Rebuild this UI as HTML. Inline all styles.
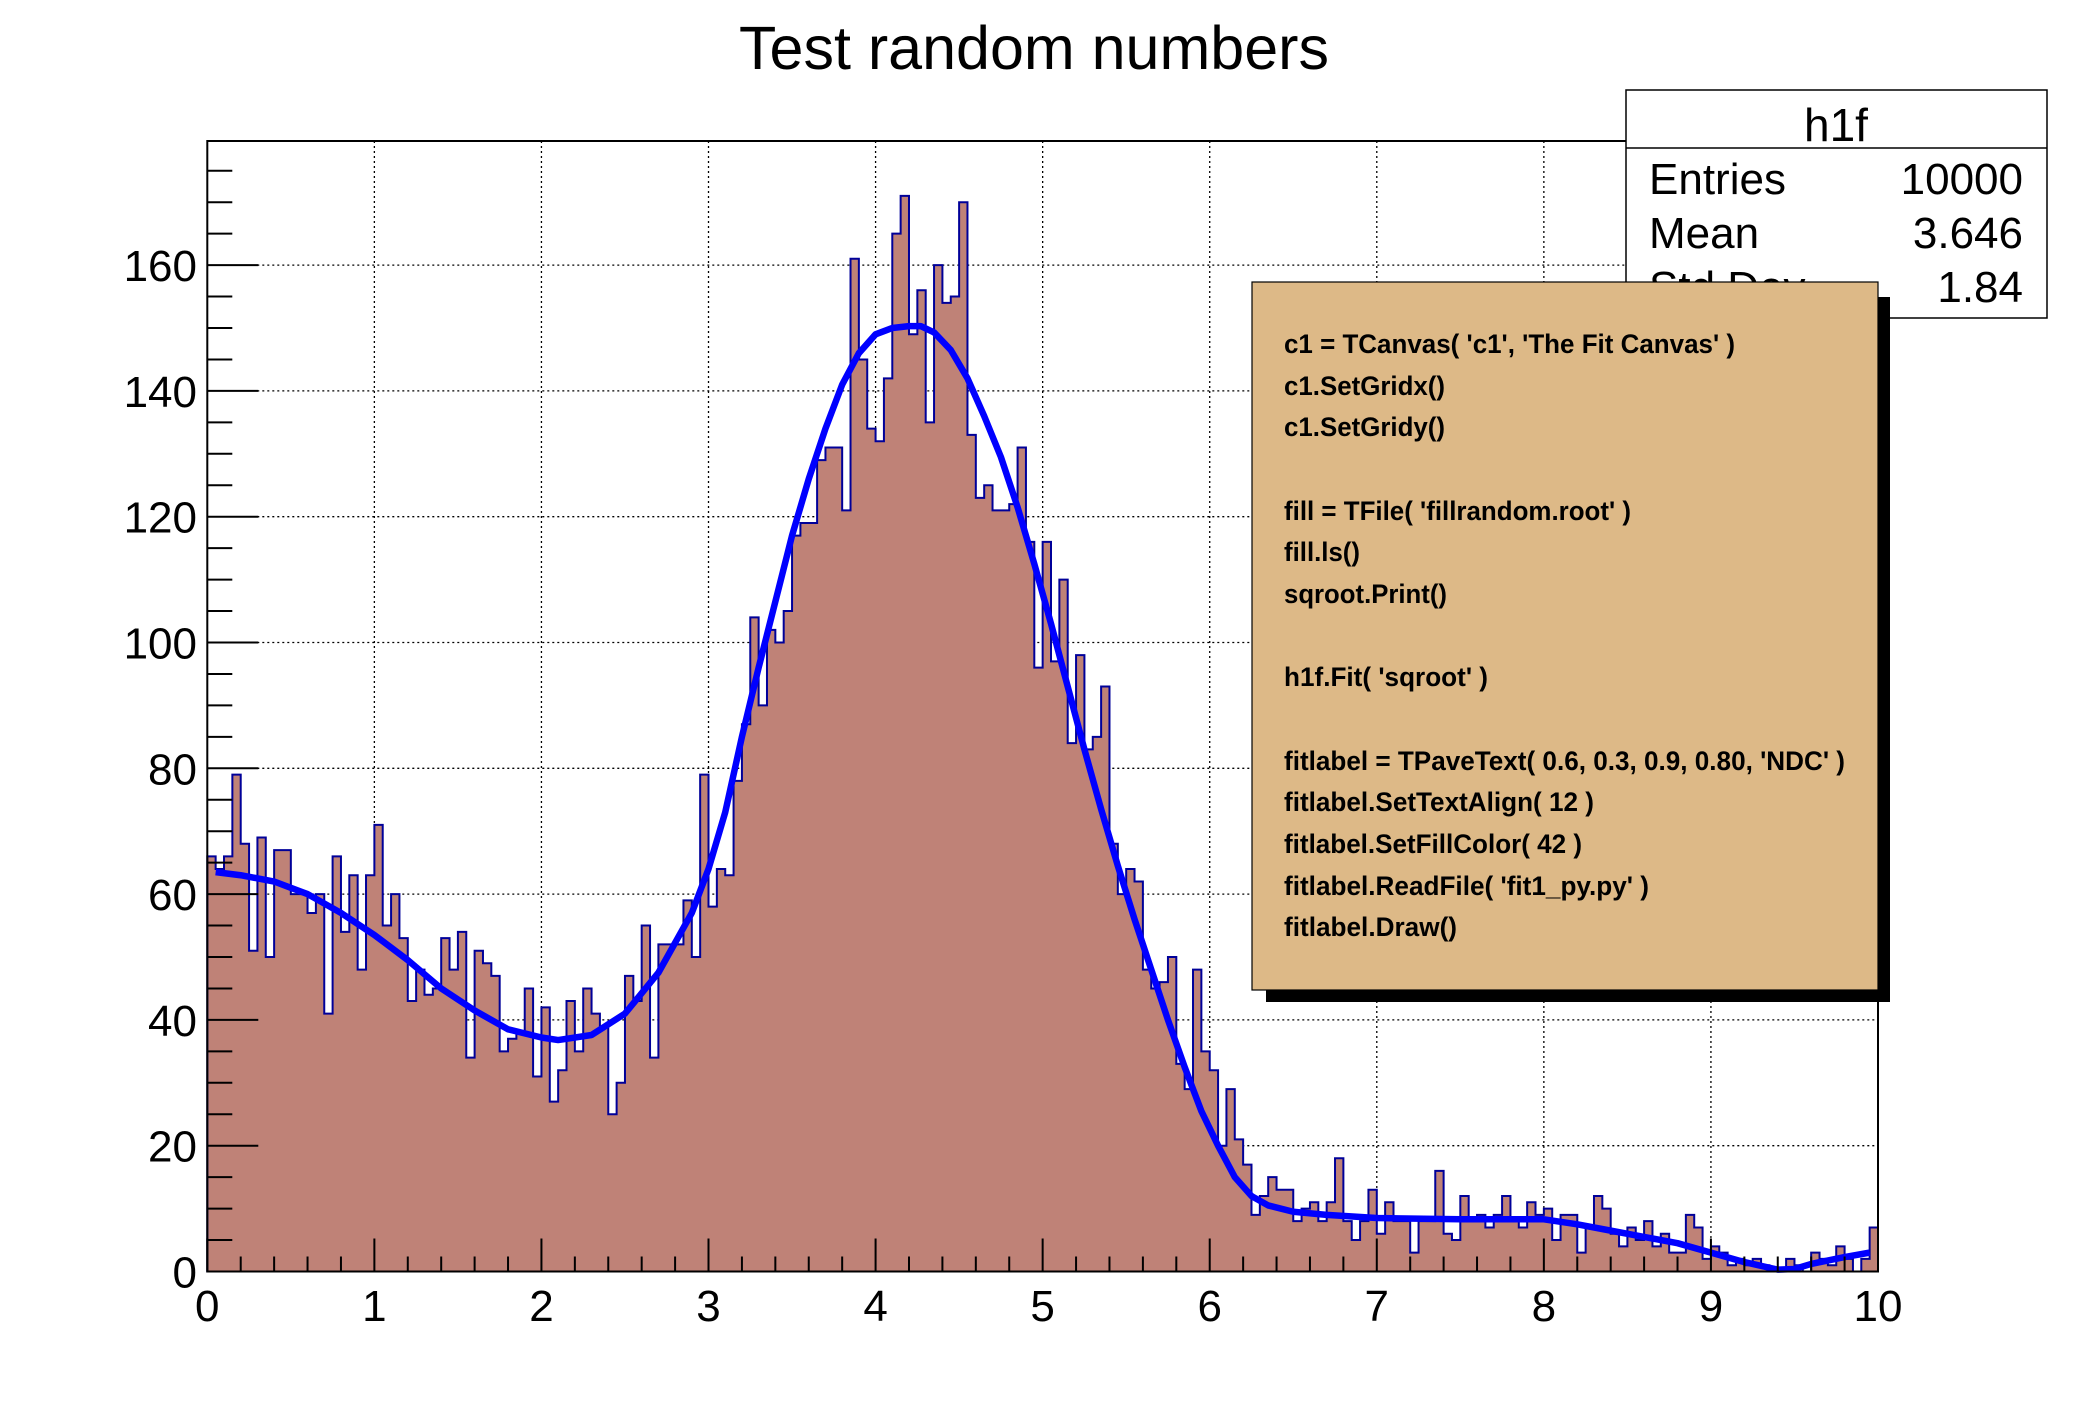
<!DOCTYPE html>
<html><head><meta charset="utf-8">
<style>
html,body{margin:0;padding:0;background:#fff;}
svg{display:block;}
text{font-family:"Liberation Sans",Arial,sans-serif;fill:#000;}
</style></head>
<body>
<svg id="s" xmlns="http://www.w3.org/2000/svg" width="2088" height="1416" viewBox="0 0 2088 1416">
<rect width="2088" height="1416" fill="#fff"/>
<g id="grid" stroke="#000" stroke-width="1.3" stroke-dasharray="2,3"></g>
<path id="hist" fill="#bf8277" stroke="#000099" stroke-width="2"/>
<path id="fit" fill="none" stroke="#0000ff" stroke-width="6.5" stroke-linejoin="round"/>
<g id="ticks" stroke="#000" stroke-width="2"></g>
<rect x="207.3" y="141" width="1670.7" height="1130.5" fill="none" stroke="#000" stroke-width="2"/>
<g id="labels" font-size="44"></g>
<text x="1034" y="69" font-size="61" text-anchor="middle">Test random numbers</text>
<!-- stats box -->
<rect x="1626" y="90" width="421" height="228" fill="#fff" stroke="#000" stroke-width="1.5"/>
<line x1="1626" y1="148" x2="2047" y2="148" stroke="#000" stroke-width="1.5"/>
<text x="1836" y="141" font-size="46" text-anchor="middle">h1f</text>
<text x="1649" y="194" font-size="44">Entries</text>
<text x="2023" y="194" font-size="44" text-anchor="end">10000</text>
<text x="1649" y="248" font-size="44">Mean</text>
<text x="2023" y="248" font-size="44" text-anchor="end">3.646</text>
<text x="1649" y="302" font-size="44">Std Dev</text>
<text x="2023" y="302" font-size="44" text-anchor="end">1.84</text>
<!-- text box -->
<rect x="1266" y="297" width="624" height="705" fill="#000"/>
<rect x="1252" y="282" width="626" height="708" fill="#ddb987" stroke="#000" stroke-width="1.2"/>
<g font-size="27" font-weight="bold" style="font-family:'Liberation Sans',Arial,sans-serif">
<text x="1284" y="353" textLength="451" lengthAdjust="spacingAndGlyphs">c1 = TCanvas( 'c1', 'The Fit Canvas' )</text>
<text x="1284" y="395" textLength="161" lengthAdjust="spacingAndGlyphs">c1.SetGridx()</text>
<text x="1284" y="436" textLength="161" lengthAdjust="spacingAndGlyphs">c1.SetGridy()</text>
<text x="1284" y="520" textLength="347" lengthAdjust="spacingAndGlyphs">fill = TFile( 'fillrandom.root' )</text>
<text x="1284" y="561" textLength="76" lengthAdjust="spacingAndGlyphs">fill.ls()</text>
<text x="1284" y="603" textLength="163" lengthAdjust="spacingAndGlyphs">sqroot.Print()</text>
<text x="1284" y="686" textLength="204" lengthAdjust="spacingAndGlyphs">h1f.Fit( 'sqroot' )</text>
<text x="1284" y="770" textLength="561" lengthAdjust="spacingAndGlyphs">fitlabel = TPaveText( 0.6, 0.3, 0.9, 0.80, 'NDC' )</text>
<text x="1284" y="811" textLength="310" lengthAdjust="spacingAndGlyphs">fitlabel.SetTextAlign( 12 )</text>
<text x="1284" y="853" textLength="298" lengthAdjust="spacingAndGlyphs">fitlabel.SetFillColor( 42 )</text>
<text x="1284" y="895" textLength="365" lengthAdjust="spacingAndGlyphs">fitlabel.ReadFile( 'fit1_py.py' )</text>
<text x="1284" y="936" textLength="173" lengthAdjust="spacingAndGlyphs">fitlabel.Draw()</text>
</g>
</svg>
<script>
(function(){
var NS="http://www.w3.org/2000/svg";
function X(v){return 207.3+v*167.07;}
function Y(c){return 1271.5-c*6.29;}
var d=[66,64,66,79,68,51,69,50,67,67,
60,60,57,60,41,66,54,63,48,63,
71,55,60,53,43,48,44,45,53,48,
54,34,51,49,47,35,37,38,45,31,
42,27,32,43,35,45,41,39,25,30,
47,43,55,34,52,52,52,59,50,79,
58,64,63,78,87,104,90,102,100,105,
117,119,119,129,131,131,121,161,145,134,
132,142,165,171,149,156,135,160,154,155,
170,133,123,125,121,121,122,131,116,96,
116,97,110,84,98,83,85,93,68,60,
64,62,48,45,46,50,33,29,48,35,
32,20,29,21,17,9,12,15,13,13,
8,10,11,8,11,18,8,5,8,13,
6,11,8,8,3,8,8,16,6,5,
12,8,9,7,9,12,8,7,11,9,
10,5,9,9,3,7,12,10,6,4,
7,5,8,4,6,3,3,9,7,2,
4,3,1,2,1,2,1,0,0,2,
1,0,3,2,1,4,2,0,2,7];
var p="M"+X(0)+","+Y(0);
for(var i=0;i<200;i++){p+=" L"+X(i*0.05).toFixed(2)+","+Y(d[i]).toFixed(2)+" L"+X((i+1)*0.05).toFixed(2)+","+Y(d[i]).toFixed(2);}
p+=" L"+X(10)+","+Y(0)+" Z";
document.getElementById("hist").setAttribute("d",p);
var f=[[0.05,63.5],[0.2,63],[0.4,62],[0.6,60],[0.8,57],[1.0,53.5],[1.2,49.5],[1.4,45],[1.6,41.5],[1.8,38.5],[2.0,37.2],[2.1,36.8],[2.3,37.6],[2.5,41],[2.7,47.5],[2.9,57],[3.0,64],[3.1,73],[3.2,85],[3.3,96],[3.4,106.5],[3.5,117],[3.6,126],[3.7,134],[3.8,141],[3.9,146],[4.0,149],[4.1,150],[4.2,150.3],[4.27,150.3],[4.35,149.3],[4.45,146.5],[4.55,142],[4.65,136],[4.75,129.5],[4.85,121.5],[4.95,112.5],[5.05,103],[5.15,93],[5.25,83],[5.35,73.5],[5.45,64.5],[5.55,56],[5.65,48],[5.75,40],[5.85,32.5],[5.95,25.5],[6.05,20],[6.15,15],[6.25,12],[6.35,10.5],[6.5,9.5],[6.7,9],[7.0,8.5],[7.5,8.3],[8.0,8.3],[8.2,7.5],[8.4,6.5],[8.6,5.5],[8.8,4.5],[9.0,3],[9.2,1.5],[9.4,0.3],[9.5,0.4],[9.6,1.2],[9.8,2.3],[9.95,3]];
var q="";
for(var j=0;j<f.length;j++){q+=(j?" L":"M")+X(f[j][0]).toFixed(2)+","+Y(f[j][1]).toFixed(2);}
document.getElementById("fit").setAttribute("d",q);
function el(n,a,par,t){var e=document.createElementNS(NS,n);for(var k in a)e.setAttribute(k,a[k]);if(t!==undefined)e.textContent=t;par.appendChild(e);return e;}
var g=document.getElementById("grid"),tk=document.getElementById("ticks"),lb=document.getElementById("labels");
for(var v=1;v<10;v++){el("line",{x1:X(v),y1:141,x2:X(v),y2:1271.5},g);}
for(var c=20;c<=160;c+=20){el("line",{x1:207.3,y1:Y(c),x2:1878,y2:Y(c)},g);}
for(var m=0;m<=50;m++){var xv=X(m*0.2);var L=(m%5==0)?33:15;el("line",{x1:xv,y1:1271.5,x2:xv,y2:1271.5-L},tk);}
for(var n=0;n<=35;n++){var yv=Y(n*5);var L2=(n%4==0)?51:25;el("line",{x1:207.3,y1:yv,x2:207.3+L2,y2:yv},tk);}
for(var v2=0;v2<=10;v2++){el("text",{x:X(v2),y:1321,"text-anchor":"middle"},lb,String(v2));}
for(var c2=0;c2<=160;c2+=20){el("text",{x:197,y:Y(c2)+16,"text-anchor":"end"},lb,String(c2));}
})();
</script>
</body></html>
